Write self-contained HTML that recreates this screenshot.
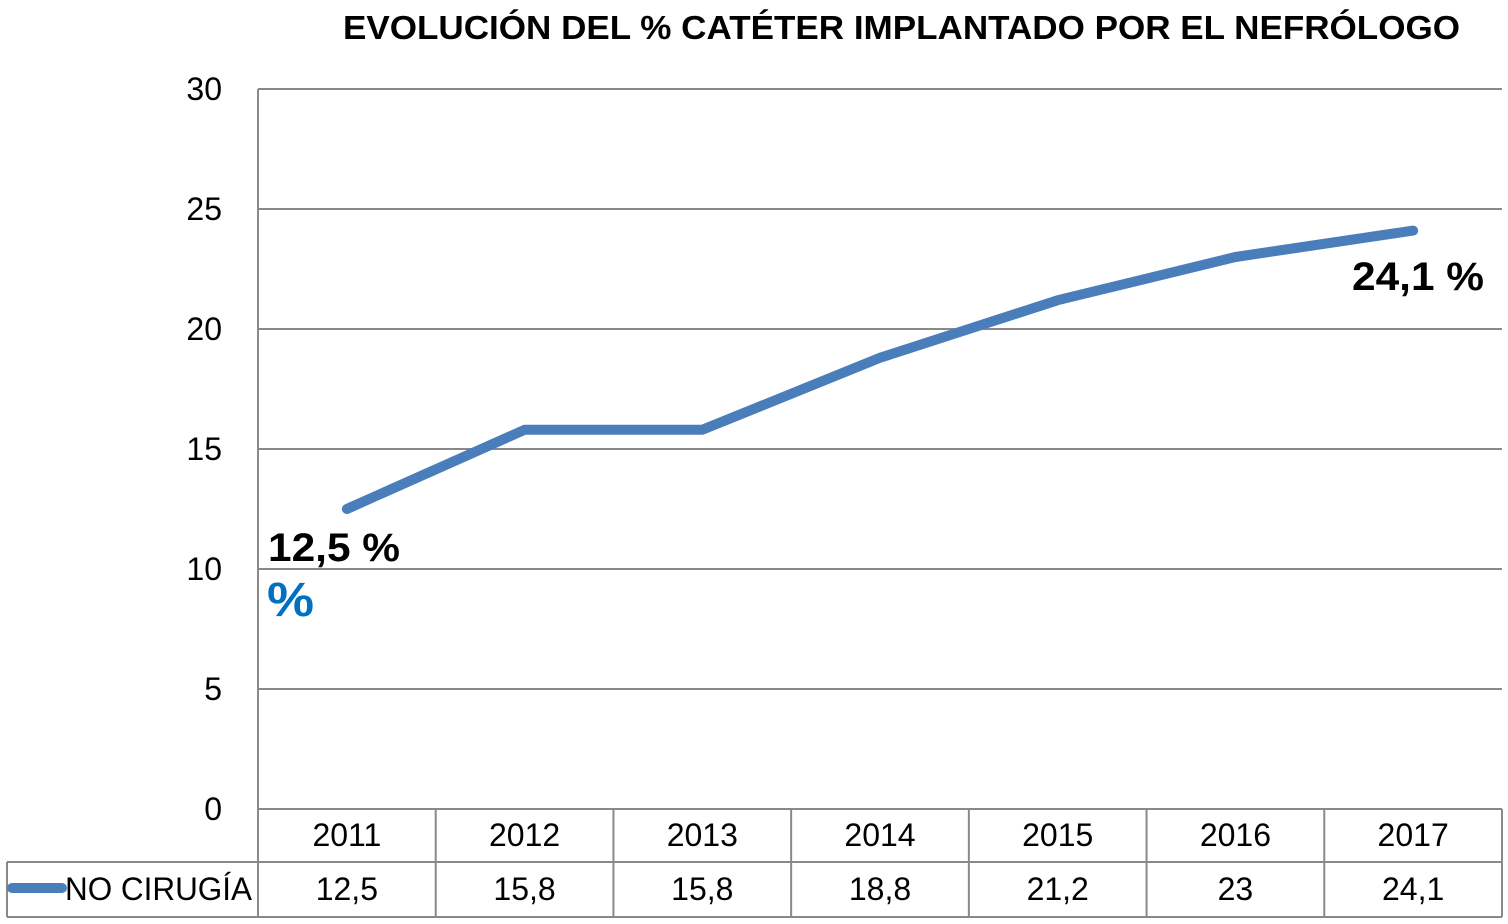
<!DOCTYPE html>
<html><head><meta charset="utf-8">
<style>
html,body{margin:0;padding:0;background:#fff;}
svg{display:block;font-family:"Liberation Sans",sans-serif;}
</style></head>
<body>
<svg id="chart" width="1508" height="924" viewBox="0 0 1508 924" xmlns="http://www.w3.org/2000/svg">
<text x="343" y="39" font-size="33" font-weight="bold" textLength="1117" lengthAdjust="spacingAndGlyphs">EVOLUCIÓN DEL  % CATÉTER IMPLANTADO POR EL NEFRÓLOGO</text>
<g id="grid"></g>
<g id="yticks"></g>
<g id="table"></g>
<g id="series"></g>
<text x="268" y="561" font-size="40" font-weight="bold" textLength="132" lengthAdjust="spacingAndGlyphs">12,5 %</text>
<text x="267" y="616" font-size="48" font-weight="bold" fill="#0070c0" textLength="47" lengthAdjust="spacingAndGlyphs">%</text>
<text x="1352" y="290" font-size="40" font-weight="bold" textLength="132" lengthAdjust="spacingAndGlyphs">24,1 %</text>
</svg>
<script>
const categories = ["2011","2012","2013","2014","2015","2016","2017"];
const values = [12.5, 15.8, 15.8, 18.8, 21.2, 23, 24.1];
const valueLabels = ["12,5","15,8","15,8","18,8","21,2","23","24,1"];
const yTicks = [0,5,10,15,20,25,30];
const seriesName = "NO CIRUGÍA";

const NS="http://www.w3.org/2000/svg";
const L=258,R=1502,T=89,B=809,yMax=30;
const colW=(R-L)/categories.length;
const x=i=>L+colW*(i+0.5);
const y=v=>B-(v/yMax)*(B-T);
function mk(tag,attrs,parent,text){const e=document.createElementNS(NS,tag);for(const k in attrs)e.setAttribute(k,attrs[k]);if(text!==undefined)e.textContent=text;parent.appendChild(e);return e;}

const grid=document.getElementById('grid');
const yt=document.getElementById('yticks');
yTicks.forEach(t=>{
  if(t>0){const g=mk('line',{x1:L,x2:R,y1:y(t),y2:y(t),stroke:'#898989','stroke-width':2},grid);
  
  }
  const lb=mk('text',{x:222,y:y(t)+11,'font-size':32,'text-anchor':'end',fill:'#000'},yt,String(t));
  
  
});
mk('line',{x1:L,x2:L,y1:T,y2:917,stroke:'#898989','stroke-width':2},grid);

const tb=document.getElementById('table');
const r0=809,r1=862,r2=917;
mk('line',{x1:L,x2:R,y1:r0,y2:r0,stroke:'#898989','stroke-width':2},tb);
mk('line',{x1:7,x2:R,y1:r1,y2:r1,stroke:'#898989','stroke-width':2},tb);
mk('line',{x1:7,x2:R,y1:r2,y2:r2,stroke:'#898989','stroke-width':2},tb);
mk('line',{x1:7,x2:7,y1:r1,y2:r2,stroke:'#898989','stroke-width':2},tb);
categories.forEach((c,i)=>{
  const xr=L+colW*(i+1);
  mk('line',{x1:xr,x2:xr,y1:r0,y2:r2,stroke:'#898989','stroke-width':2},tb);
  const ct=mk('text',{x:x(i),y:846,'font-size':32,'text-anchor':'middle'},tb,c);
  
  
  const vt=mk('text',{x:x(i),y:900,'font-size':32,'text-anchor':'middle'},tb,valueLabels[i]);
  
  
});
const key=mk('line',{x1:12,x2:62,y1:888,y2:888,stroke:'#4a7ebb','stroke-width':10,'stroke-linecap':'round'},tb);


const sn=mk('text',{x:65,y:900,'font-size':32,textLength:187,lengthAdjust:'spacingAndGlyphs'},tb,seriesName);



const s=document.getElementById('series');
const pts=values.map((v,i)=>x(i)+','+y(v)).join(' ');
const pl=mk('polyline',{points:pts,fill:'none',stroke:'#4a7ebb','stroke-width':10,'stroke-linecap':'round','stroke-linejoin':'round'},s);


</script>
</body></html>
